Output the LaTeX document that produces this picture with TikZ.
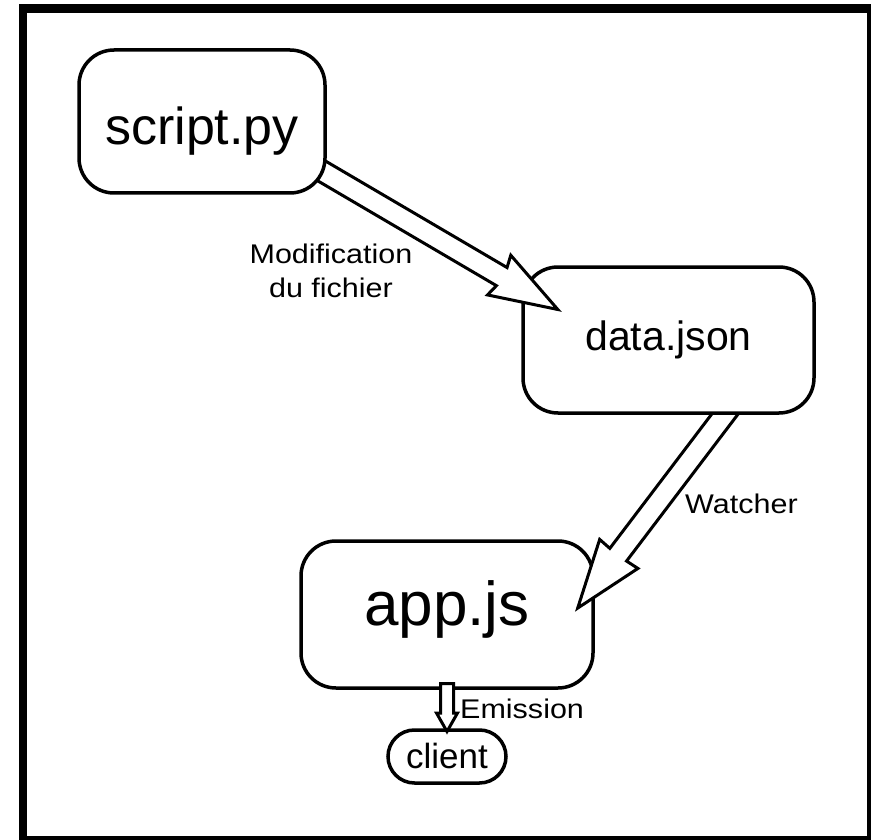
\documentclass[tikz,border=0pt]{standalone}
\usepackage{fontspec}
\setmainfont{Liberation Sans}
\newfontfamily\labelfont[FakeStretch=1.13]{Liberation Sans}
\usetikzlibrary{calc}

\pgfdeclarelayer{boxesA}
\pgfdeclarelayer{arrowsA}
\pgfdeclarelayer{boxesB}
\pgfdeclarelayer{arrowsB}
\pgfdeclarelayer{boxesC}
\pgfsetlayers{boxesA,arrowsA,boxesB,arrowsB,boxesC,main}

% hollow block arrow: #1 start, #2 tip, #3 shaft half width,
% #4 head half width, #5 head length, #6 barb depth
\newcommand\hollowarrow[6]{%
  \draw[arrowline]
    ($#1!#3!90:#2$) -- ($($#2!#5!#1$)!#3!90:#2$) --
    ($($#2!#6!#1$)!#4!90:#2$) -- #2 --
    ($($#2!#6!#1$)!#4!-90:#2$) -- ($($#2!#5!#1$)!#3!-90:#2$) --
    ($#1!#3!-90:#2$) -- cycle;}

\tikzset{
  box/.style={draw, line width=3.5pt, rounded corners=35pt, fill=white,
    inner sep=0pt, outer sep=0pt, text depth=0pt},
  arrowline/.style={draw, line width=3pt, fill=white, line join=miter},
  labeltext/.style={inner sep=0pt, font=\labelfont\fontsize{27}{34}\selectfont},
}

\begin{document}
\begin{tikzpicture}[x=1pt, y=-1pt]
\useasboundingbox (0,0) rectangle (871,840);

% outer frame
\draw[line width=8.5pt] (23,8.5) rectangle (871,840);

% boxes
\begin{pgfonlayer}{boxesA}
  \node[box, rounded corners=26.5pt, minimum width=118pt, minimum height=53pt,
        text height=23pt, font=\fontsize{35}{42}\selectfont]
        (client) at (447,756.5) {client};
  \node[box, minimum width=292pt, minimum height=147pt,
        text height=21pt, font=\fontsize{62}{72}\selectfont]
        (app) at (447,614.5) {app.js};
\end{pgfonlayer}
\begin{pgfonlayer}{boxesB}
  \node[box, minimum width=291pt, minimum height=146pt,
        text height=20pt, font=\fontsize{41}{48}\selectfont]
        (data) at (668.5,340) {data.json};
\end{pgfonlayer}
\begin{pgfonlayer}{boxesC}
  \node[box, minimum width=246pt, minimum height=143pt,
        text height=47pt, font=\fontsize{52}{60}\selectfont]
        (script) at (202,121.5) {script.py};
\end{pgfonlayer}

% connector end points
\coordinate (s1) at ($(script.center)+(87,30.3)$);
\coordinate (t1) at ($(data.center)+(-110.7,-30.5)$);
\coordinate (s2) at ($(data.center)+(79.9,43.1)$);
\coordinate (t2) at ($(app.center)+(130.7,-6.4)$);
\coordinate (s3) at ($(app.center)+(0,69)$);
\coordinate (t3) at ($(client.center)+(0,-25)$);

% connectors
\begin{pgfonlayer}{arrowsB}
  \hollowarrow{(s1)}{(t1)}{10.5pt}{23pt}{65pt}{68pt}
\end{pgfonlayer}
\begin{pgfonlayer}{arrowsA}
  \hollowarrow{(s2)}{(t2)}{10.5pt}{24pt}{67pt}{68pt}
\end{pgfonlayer}
\hollowarrow{(s3)}{(t3)}{6.5pt}{10.5pt}{18.5pt}{18.5pt}

% connector labels
\node[labeltext, align=center, anchor=north] (modlabel) at (331,244)
  {Modification\\du fichier};
\node[labeltext, anchor=base west] (watchlabel) at (685,513) {Watcher};
\node[labeltext, anchor=base west] (emitlabel) at (460,718) {Emission};
\end{tikzpicture}
\end{document}
